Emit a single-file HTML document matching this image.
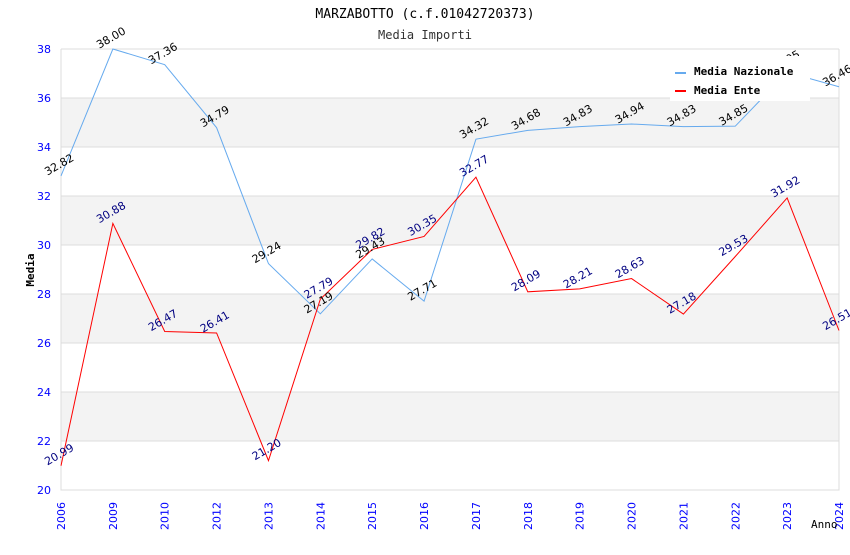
<!DOCTYPE html>
<html><head><meta charset="utf-8"><style>
body{margin:0;background:#fff;}
svg text{font-family:"DejaVu Sans","Liberation Sans",sans-serif;}
svg text.mono{font-family:"DejaVu Sans Mono","Liberation Mono",monospace;}
</style></head><body>
<svg id="chart" width="850" height="550" xmlns="http://www.w3.org/2000/svg">
<text class="mono" x="425" y="18" text-anchor="middle" font-size="13" fill="#000">MARZABOTTO (c.f.01042720373)</text>
<text class="mono" x="425" y="39" text-anchor="middle" font-size="12" fill="#333">Media Importi</text>
<g id="bands"></g><g id="grid"></g><g id="axes"></g><g id="series"></g><g id="labels"></g>
<text class="mono" transform="translate(34,270) rotate(-90)" text-anchor="middle" font-size="11" font-weight="bold" fill="#000">Media</text>
<text class="mono" x="811" y="528" font-size="11" fill="#000">Anno</text>
<g>
<rect x="670" y="56" width="140" height="45" fill="#fff"/>
<line x1="675" y1="73" x2="686" y2="73" stroke="#66aaee" stroke-width="2"/>
<text class="mono" x="694" y="75" font-size="11" font-weight="bold">Media Nazionale</text>
<line x1="675" y1="91" x2="686" y2="91" stroke="#ff0000" stroke-width="2"/>
<text class="mono" x="694" y="94" font-size="11" font-weight="bold">Media Ente</text>
</g>
</svg>
<script>
const categories=["2006","2009","2010","2012","2013","2014","2015","2016","2017","2018","2019","2020","2021","2022","2023","2024"];
const nazionale=[32.82,38.00,37.36,34.79,29.24,27.19,29.43,27.71,34.32,34.68,34.83,34.94,34.83,34.85,37.05,36.46];
const ente=[20.99,30.88,26.47,26.41,21.20,27.79,29.82,30.35,32.77,28.09,28.21,28.63,27.18,29.53,31.92,26.51];
const yTicks=[20,22,24,26,28,30,32,34,36,38];
const NS="http://www.w3.org/2000/svg";
const L=61,R=839,T=49,B=490,yMin=20,yMax=38;
const x=i=>L+i*(R-L)/(categories.length-1);
const y=v=>B-(v-yMin)/(yMax-yMin)*(B-T);
function mk(tag,attrs,parent){const e=document.createElementNS(NS,tag);for(const k in attrs)e.setAttribute(k,attrs[k]);document.getElementById(parent).appendChild(e);return e;}
for(let i=0;i<yTicks.length-1;i++){
  if(i%2===1){const r=mk('rect',{x:L,y:y(yTicks[i+1]),width:R-L,height:y(yTicks[i])-y(yTicks[i+1]),fill:'#f3f3f3'},'bands');
  
  }
}
yTicks.forEach(t=>{
  const g=mk('line',{x1:L,x2:R,y1:y(t),y2:y(t),stroke:'#dcdcdc'},'grid');
  
  
  const tx=mk('text',{x:L-10,y:y(t)+4,'text-anchor':'end','font-size':11,fill:'#0000ff'},'axes');
  tx.textContent=t;
  
  
});
const ax=mk('path',{d:`M${L},${T}V${B}H${R}V${T}`,fill:'none',stroke:'#dcdcdc'},'axes');


categories.forEach((c,i)=>{
  const tx=mk('text',{transform:`translate(${x(i)+4},${B+40}) rotate(-90)`,'font-size':11,fill:'#0000ff'},'axes');
  tx.textContent=c;
  
  
});
function series(vals,color,lblColor,name){
  const p=mk('polyline',{points:vals.map((v,i)=>x(i)+','+y(v)).join(' '),fill:'none',stroke:color,'stroke-width':1},'series');
  
  
  vals.forEach((v,i)=>{
    const t=mk('text',{transform:`translate(${x(i)},${y(v)-8}) rotate(-30)`,'text-anchor':'middle','font-size':11,fill:lblColor},'labels');
    t.textContent=v.toFixed(2);
    
    
  });
}
series(nazionale,'#66aaee','#000','nazionale');
series(ente,'#ff0000','#000080','ente');
</script>
</body></html>
